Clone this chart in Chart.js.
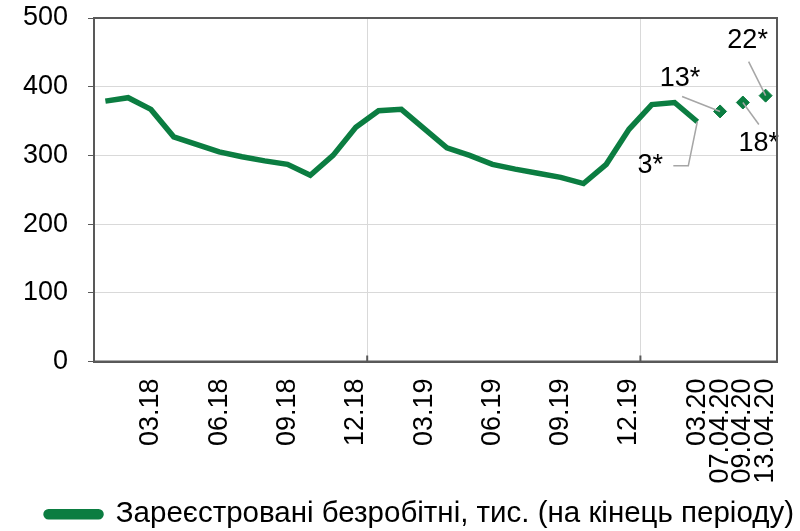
<!DOCTYPE html>
<html>
<head>
<meta charset="utf-8">
<script src="https://cdn.jsdelivr.net/npm/chart.js@4.4.0/dist/chart.umd.min.js"></script>
<style>
    body { margin: 0; background: #fff; }
    #wrap { width: 800px; height: 531px; }
</style>
</head>
<body>
<div id="wrap"><canvas id="myChart"></canvas></div>
<script>
    var labels = ['01.18', '02.18', '03.18', '04.18', '05.18', '06.18', '07.18', '08.18', '09.18', '10.18', '11.18', '12.18',
        '01.19', '02.19', '03.19', '04.19', '05.19', '06.19', '07.19', '08.19', '09.19', '10.19', '11.19', '12.19',
        '01.20', '02.20', '03.20', '07.04.20', '09.04.20', '13.04.20'];
    var shownLabels = ['03.18', '06.18', '09.18', '12.18', '03.19', '06.19', '09.19', '12.19', '03.20', '07.04.20', '09.04.20', '13.04.20'];
    var monthly = [379, 384, 367, 327, 316, 305, 298, 292, 287, 271, 300, 341,
        365, 367, 339, 311, 300, 287, 280, 274, 268, 259, 287, 338,
        374, 377, 349, null, null, null];
    var weekly = [null, null, null, null, null, null, null, null, null, null, null, null,
        null, null, null, null, null, null, null, null, null, null, null, null,
        null, null, null, 364, 377, 387];
    var noteIdx = [26, 27, 28, 29];
    var noteText = ['3*', '13*', '18*', '22*'];
    var yTicks = [0, 100, 200, 300, 400, 500];

    var green = '#0b7d41';
    var dark = '#595959';
    var light = '#d9d9d9';
    var font = '"Liberation Sans", Arial, sans-serif';

    // frame around plot + small inward ticks at year boundaries
    var framePlugin = {
        id: 'frame',
        afterLayout: function(chart) {
            // legend sits a bit right of centre in the original
            chart.legend.left += 20;
            chart.legend.right += 20;
        },
        afterDraw: function(chart) {
            var c = chart.ctx;
            var a = chart.chartArea;
            var x = chart.scales.x;
            c.save();
            c.strokeStyle = dark;
            c.lineWidth = 2;
            c.strokeRect(a.left, a.top, a.right - a.left, a.bottom - a.top);
            [12, 24].forEach(function(i) {
                var px = (x.getPixelForValue(i - 1) + x.getPixelForValue(i)) / 2;
                c.beginPath();
                c.moveTo(px, a.bottom);
                c.lineTo(px, a.bottom - 6);
                c.stroke();
            });
            c.restore();
        }
    };

    // "3*", "13*" ... labels with leader lines
    var notePlugin = {
        id: 'notes',
        afterDatasetsDraw: function(chart) {
            var c = chart.ctx;
            var x = chart.scales.x;
            var y = chart.scales.y;
            var lines = [
                [[-9, 44], [-24, 44]],
                [[-38, -15]],
                [[16, 22]],
                [[-17, -34]]
            ];
            var textOff = [[-47, 44], [-40, -33], [16, 41], [-18, -55]];
            c.save();
            c.strokeStyle = '#a6a6a6';
            c.lineWidth = 1.5;
            c.fillStyle = '#000';
            c.font = '27px ' + font;
            c.textAlign = 'center';
            c.textBaseline = 'middle';
            noteIdx.forEach(function(idx, k) {
                var v = monthly[idx] != null ? monthly[idx] : weekly[idx];
                var px = x.getPixelForValue(idx);
                var py = y.getPixelForValue(v);
                c.beginPath();
                c.moveTo(px, py);
                lines[k].forEach(function(p) {
                    c.lineTo(px + p[0], py + p[1]);
                });
                c.stroke();
                c.fillText(noteText[k], px + textOff[k][0], py + textOff[k][1]);
            });
            c.restore();
        }
    };

    var ctx = document.getElementById('myChart').getContext('2d');
    var myChart = new Chart(ctx, {
        type: 'line',
        data: {
            labels: labels,
            datasets: [{
                label: 'Зареєстровані безробітні, тис. (на кінець періоду)',
                data: monthly,
                borderColor: green,
                backgroundColor: green,
                borderWidth: 5.5,
                pointRadius: 0,
                tension: 0,
                spanGaps: false
            }, {
                label: 'weekly',
                data: weekly,
                showLine: false,
                pointStyle: 'rectRot',
                pointRadius: 6.5,
                pointBackgroundColor: green,
                pointBorderColor: green,
                pointBorderWidth: 1
            }]
        },
        options: {
            responsive: true,
            maintainAspectRatio: false,
            animation: false,
            layout: {
                padding: { top: 18, right: 0, left: 0, bottom: -8 }
            },
            plugins: {
                tooltip: { enabled: false },
                legend: {
                    position: 'bottom',
                    labels: {
                        filter: function(item) { return item.datasetIndex === 0; },
                        boxWidth: 55,
                        boxHeight: 5,
                        useBorderRadius: true,
                        borderRadius: 2.5,
                        padding: 4,
                        color: '#000',
                        font: { family: font, size: 29.5 }
                    }
                }
            },
            scales: {
                x: {
                    offset: true,
                    afterFit: function(scale) {
                        scale.height = 134;
                        scale.paddingLeft = 0;
                        scale.paddingRight = 23;
                    },
                    grid: {
                        offset: true,
                        drawTicks: false,
                        color: function(c) {
                            return (c.index === 12 || c.index === 24) ? light : 'rgba(0,0,0,0)';
                        },
                        lineWidth: 1
                    },
                    border: { color: dark, width: 2 },
                    ticks: {
                        autoSkip: false,
                        maxRotation: 90,
                        minRotation: 90,
                        padding: 17,
                        color: '#000',
                        font: { family: font, size: 27 },
                        callback: function(value) {
                            var l = labels[value];
                            return shownLabels.indexOf(l) >= 0 ? l : '';
                        }
                    }
                },
                y: {
                    min: 0,
                    max: 500,
                    afterFit: function(scale) {
                        scale.width = 94;
                        scale.paddingTop = 0;
                        scale.paddingBottom = 0;
                    },
                    afterBuildTicks: function(scale) {
                        scale.ticks = yTicks.map(function(v) { return { value: v }; });
                    },
                    grid: {
                        color: light,
                        tickColor: dark,
                        tickLength: 6,
                        lineWidth: 1
                    },
                    border: { color: dark, width: 2 },
                    ticks: {
                        padding: 20,
                        color: '#000',
                        font: { family: font, size: 27 }
                    }
                }
            }
        },
        plugins: [framePlugin, notePlugin]
    });
</script>
</body>
</html>
